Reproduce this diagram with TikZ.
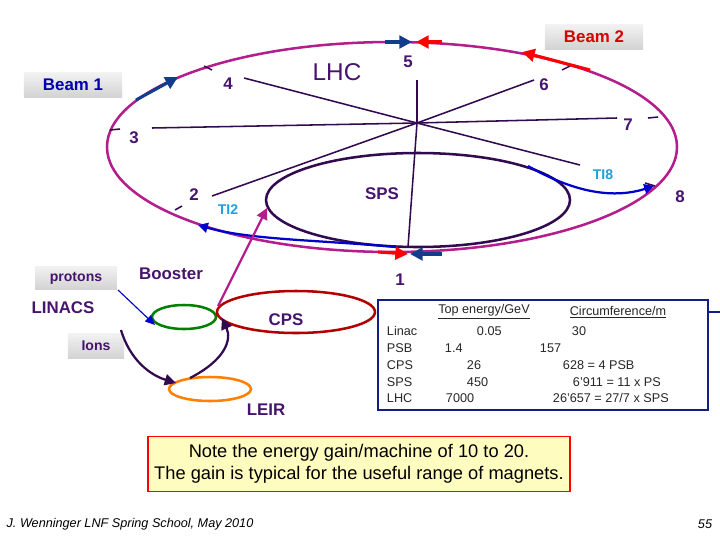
\documentclass[tikz,border=0pt]{standalone}
\usepackage{fontspec}
\setmainfont{Liberation Sans}
\usetikzlibrary{positioning, shapes, arrows.meta}
\definecolor{lhcpink}{RGB}{180,30,140}
\definecolor{darkpurple}{RGB}{50,10,80}
\definecolor{labelpurple}{RGB}{70,20,110}
\definecolor{beamblue}{RGB}{20,60,140}
\definecolor{tiblue}{RGB}{30,160,220}
\definecolor{tablue}{RGB}{20,30,130}
\tikzset{
    lbl/.style={font=\bfseries\large, text=labelpurple},
    tag/.style={font=\bfseries\large, top color=gray!10, bottom color=gray!35, inner sep=4pt},
    spoke/.style={darkpurple, line width=1.1pt},
    tick/.style={darkpurple, line width=1.1pt},
    beam/.style={line width=2.2pt, -{Triangle[length=9pt,width=9pt]}},
    cell/.style={font=\small, text=black!85, anchor=west}
}
\begin{document}
\begin{tikzpicture}[x=0.025cm, y=-0.025cm]
    \useasboundingbox (0,0) rectangle (720,540);

    % Rings
    \draw[lhcpink, line width=1.8pt] (392,147) ellipse [x radius=285, y radius=105];
    \draw[darkpurple, line width=1.8pt] (418,200) ellipse [x radius=152, y radius=47];
    \coordinate (c) at (417,123);

    % Spokes
    \draw[spoke] (244,78) -- (c) -- (580,165);
    \draw[spoke] (534,80) -- (c) -- (212,196);
    \draw[spoke] (152,128) -- (c) -- (617,118);
    \draw[spoke] (417,80) -- (c) -- (408,247);
    \draw[tick] (204,66) -- (212,70);
    \draw[tick] (562,70) -- (570,66);
    \draw[tick] (110,130) -- (120,129);
    \draw[tick] (648,118) -- (658,117);
    \draw[tick] (175,210) -- (182,206);
    \draw[tick] (645,183) -- (655,186);

    % Point labels
    \node[lbl] (p5) at (408,62) {5};
    \node[lbl] (p4) at (228,84) {4};
    \node[lbl] (p6) at (544,85) {6};
    \node[lbl] (p7) at (628,125) {7};
    \node[lbl] (p3) at (134,138) {3};
    \node[lbl] (p2) at (194,195) {2};
    \node[lbl] (p8) at (680,197) {8};
    \node[lbl] (p1) at (400,280) {1};
    \node[font=\LARGE, text=labelpurple] (lhc) at (337,72) {LHC};
    \node[lbl] (sps) at (382,194) {SPS};
    \node[font=\bfseries, text=tiblue] (ti2) at (228,210) {TI2};
    \node[font=\bfseries, text=tiblue] (ti8) at (603,175) {TI8};

    % Transfer lines
    \draw[blue!80!black, line width=1.6pt, -{Triangle[length=7pt,width=7pt]}] (528,166) .. controls (570,190) and (610,200) .. (654,186);
    \draw[blue!80!black, line width=1.6pt, -{Triangle[length=7pt,width=7pt]}] (396,247) .. controls (320,240) and (250,240) .. (198,225);

    % Beams
    \draw[beam, beamblue] (136,100) -- (178,77);
    \draw[beam, beamblue] (385,42) -- (412,42);
    \draw[beam, red] (442,42) -- (416,42);
    \draw[beam, red] (590,70) -- (522,52);
    \draw[beam, red] (378,252) -- (408,254);
    \draw[beam, beamblue] (442,254) -- (410,254);
    \node[tag, text=blue!70!black, minimum width=70pt, minimum height=18pt] (beam1) at (73,85) {Beam 1};
    \node[tag, text=red!85!black, minimum width=70pt, minimum height=18pt] (beam2) at (594,37) {Beam 2};

    % Injectors
    \draw[green!50!black, line width=1.8pt] (184,317) ellipse [x radius=32, y radius=12];
    \draw[red!70!black, line width=1.8pt] (296,312) ellipse [x radius=79, y radius=21];
    \draw[orange, line width=1.8pt] (210,389) ellipse [x radius=41, y radius=12];
    \node[tag, font=\bfseries, text=labelpurple, minimum width=58pt, minimum height=17pt] (protons) at (76,278) {protons};
    \node[tag, font=\bfseries, text=labelpurple, minimum width=40pt, minimum height=18pt] (ions) at (96,346) {Ions};
    \node[lbl] (booster) at (171,274) {Booster};
    \node[lbl] (linacs) at (63,308) {LINACS};
    \node[lbl] (cps) at (286,320) {CPS};
    \node[lbl] (leir) at (266,410) {LEIR};
    \draw[lhcpink, line width=1.6pt, -{Triangle[length=8pt,width=8pt]}] (218,306) -- (267,208);
    \draw[blue!80!black, thick, -{Triangle[length=7pt,width=6pt]}] (118,290) -- (155,325);
    \draw[darkpurple, line width=1.6pt, -{Triangle[length=8pt,width=8pt]}] (121,330) .. controls (130,360) and (150,375) .. (176,383);
    \draw[darkpurple, line width=1.6pt, -{Triangle[length=8pt,width=8pt]}] (190,378) .. controls (225,360) and (232,340) .. (222,318);

    % Table
    \draw[tablue, thick] (378,300) rectangle (708,410);
    \draw[tablue, thick] (708,312) -- (720,312);
    \node[cell, anchor=center] (hdr1) at (484,312) {\underline{Top energy/GeV}};
    \node[cell, anchor=center] (hdr2) at (618,312) {\underline{Circumference/m}};
    \node[cell] at (382,331) {Linac};
    \node[cell] at (382,348) {PSB};
    \node[cell] at (382,365) {CPS};
    \node[cell] at (382,382) {SPS};
    \node[cell] at (382,398) {LHC};
    \node[cell] at (472,331) {0.05};
    \node[cell] at (440,348) {1.4};
    \node[cell] at (462,365) {26};
    \node[cell] at (462,382) {450};
    \node[cell] at (441,398) {7000};
    \node[cell] at (567,331) {30};
    \node[cell] at (535,348) {157};
    \node[cell] at (558,365) {628 = 4 PSB};
    \node[cell] at (568,382) {6'911 = 11 x PS};
    \node[cell] at (548,398) {26'657 = 27/7 x SPS};

    % Note
    \node[draw=red, thick, fill=yellow!25, align=center, font=\large, minimum width=422*0.025cm, minimum height=55*0.025cm] (note) at (359,464)
        {\fontsize{13}{16}\selectfont Note the energy gain/machine of 10 to 20.\\[2pt]\fontsize{13}{16}\selectfont The gain is typical for the useful range of magnets.};

    % Footer
    \node[font=\small\itshape] (foot) at (130,524) {J. Wenninger LNF Spring School, May 2010};
    \node[font=\small\itshape] (page) at (705,524) {55};
\end{tikzpicture}
\end{document}
